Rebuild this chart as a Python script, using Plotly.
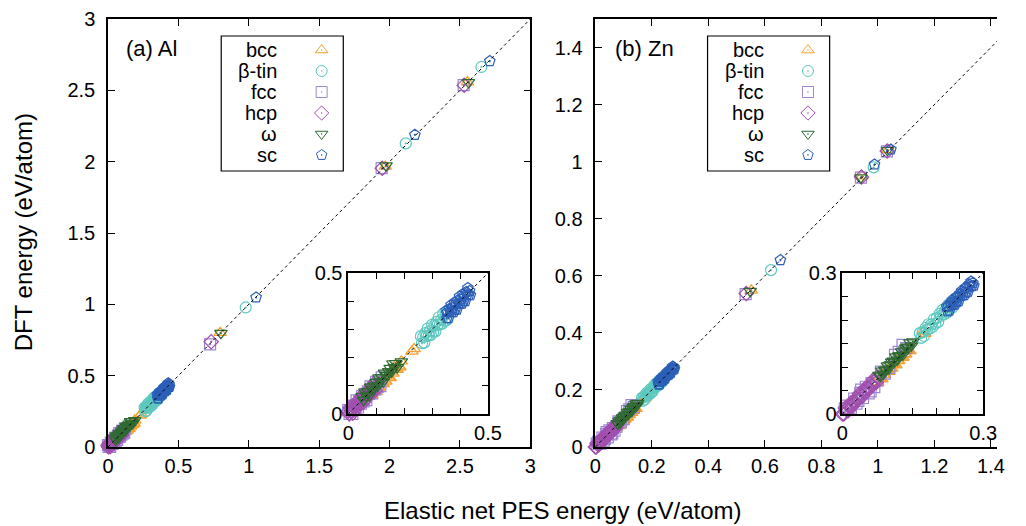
import numpy as np
import plotly.graph_objects as go

# ---------------------------------------------------------------- data
STRUCTURES = ["bcc", "β-tin", "fcc", "hcp", "ω", "sc"]
SYMBOLS = ["triangle-up-open-dot", "circle-open-dot", "square-open-dot",
           "diamond-open-dot", "triangle-down-open-dot", "pentagon-open-dot"]
COLORS = ["#f5a031", "#5cc8bf", "#9d86d3", "#a24fae", "#2f6a33", "#2c5fb8"]

# Al: elastic-net PES energy (x) vs DFT energy (y), eV/atom
al_bcc_x = [0.080, 0.085, 0.090, 0.095, 0.100, 0.105, 0.110, 0.115, 0.120, 0.125, 0.130, 0.135,
            0.140, 0.145, 0.150, 0.155, 0.160, 0.165, 0.170, 0.175, 0.180, 0.185, 0.190,
            0.228, 0.236, 0.797, 1.970, 2.553]
al_bcc_y = [0.070, 0.066, 0.087, 0.081, 0.078, 0.099, 0.094, 0.115, 0.109, 0.107, 0.120, 0.116,
            0.137, 0.131, 0.128, 0.149, 0.144, 0.165, 0.159, 0.157, 0.170, 0.166, 0.187,
            0.222, 0.231, 0.801, 1.966, 2.558]
al_btin_x = [0.260, 0.264, 0.268, 0.272, 0.276, 0.280, 0.284, 0.288, 0.292, 0.296, 0.300, 0.304,
             0.308, 0.312, 0.316, 0.320, 0.324, 0.328, 0.332, 0.336, 0.340, 0.344, 0.348, 0.352,
             0.356, 0.978, 2.115, 2.652]
al_btin_y = [0.276, 0.251, 0.273, 0.253, 0.287, 0.277, 0.303, 0.278, 0.294, 0.280, 0.316, 0.291,
             0.313, 0.293, 0.327, 0.317, 0.343, 0.318, 0.334, 0.320, 0.356, 0.331, 0.353, 0.333,
             0.367, 0.978, 2.128, 2.664]
al_fcc_x = [0.000, 0.005, 0.010, 0.015, 0.020, 0.025, 0.030, 0.035, 0.040, 0.045, 0.050, 0.055,
            0.060, 0.065, 0.070, 0.075, 0.080, 0.085, 0.090, 0.095, 0.100, 0.105, 0.110, 0.115,
            0.120, 0.725, 1.944, 2.526]
al_fcc_y = [0.014, 0.000, 0.014, 0.000, 0.030, 0.021, 0.048, 0.023, 0.046, 0.037, 0.064, 0.045,
            0.064, 0.049, 0.080, 0.071, 0.098, 0.073, 0.096, 0.087, 0.114, 0.095, 0.114, 0.099,
            0.130, 0.720, 1.955, 2.537]
al_hcp_x = [0.000, 0.004, 0.008, 0.012, 0.016, 0.020, 0.024, 0.028, 0.032, 0.036, 0.040, 0.044,
            0.048, 0.052, 0.056, 0.060, 0.064, 0.068, 0.072, 0.076, 0.080, 0.084, 0.088, 0.092,
            0.096, 0.733, 1.948, 2.530]
al_hcp_y = [0.010, 0.000, 0.024, 0.012, 0.003, 0.026, 0.037, 0.018, 0.035, 0.033, 0.050, 0.038,
            0.064, 0.052, 0.043, 0.066, 0.077, 0.058, 0.075, 0.073, 0.090, 0.078, 0.104, 0.092,
            0.083, 0.738, 1.954, 2.536]
al_omega_x = [0.050, 0.055, 0.060, 0.065, 0.070, 0.075, 0.080, 0.085, 0.090, 0.095, 0.100, 0.105,
              0.110, 0.115, 0.120, 0.125, 0.130, 0.135, 0.140, 0.145, 0.150, 0.155, 0.160, 0.165,
              0.170, 0.175, 0.190, 0.802, 1.975, 2.560]
al_omega_y = [0.063, 0.049, 0.079, 0.065, 0.080, 0.065, 0.096, 0.088, 0.087, 0.101, 0.113, 0.099,
              0.129, 0.115, 0.130, 0.115, 0.146, 0.138, 0.137, 0.151, 0.163, 0.149, 0.179, 0.165,
              0.180, 0.165, 0.186, 0.798, 1.972, 2.556]
al_sc_x = [0.350, 0.353, 0.356, 0.359, 0.362, 0.365, 0.368, 0.371, 0.374, 0.377, 0.380, 0.383,
           0.386, 0.389, 0.392, 0.395, 0.398, 0.401, 0.404, 0.407, 0.410, 0.413, 0.416, 0.419,
           0.422, 0.425, 0.428, 0.431, 0.434, 0.437, 1.052, 2.180, 2.712]
al_sc_y = [0.366, 0.340, 0.361, 0.340, 0.373, 0.362, 0.387, 0.361, 0.376, 0.361, 0.396, 0.370,
           0.391, 0.370, 0.403, 0.392, 0.417, 0.391, 0.406, 0.391, 0.426, 0.400, 0.421, 0.400,
           0.433, 0.422, 0.447, 0.421, 0.436, 0.421, 1.048, 2.188, 2.705]

# Zn: elastic-net PES energy (x) vs DFT energy (y), eV/atom
zn_bcc_x = [0.072, 0.075, 0.078, 0.081, 0.084, 0.087, 0.090, 0.093, 0.096, 0.099, 0.102, 0.105,
            0.108, 0.111, 0.114, 0.117, 0.120, 0.123, 0.126, 0.129, 0.132, 0.135, 0.138, 0.141,
            0.144, 0.172, 0.176, 0.552, 0.944, 1.036]
zn_bcc_y = [0.068, 0.067, 0.077, 0.075, 0.074, 0.084, 0.083, 0.093, 0.091, 0.090, 0.098, 0.097,
            0.107, 0.105, 0.104, 0.114, 0.113, 0.123, 0.121, 0.120, 0.128, 0.127, 0.137, 0.135,
            0.134, 0.176, 0.171, 0.549, 0.949, 1.041]
zn_btin_x = [0.165, 0.168, 0.171, 0.174, 0.177, 0.180, 0.183, 0.186, 0.189, 0.192, 0.195, 0.198,
             0.201, 0.204, 0.207, 0.210, 0.213, 0.216, 0.219, 0.222, 0.225, 0.228, 0.231, 0.234,
             0.237, 0.240, 0.622, 0.985]
zn_btin_y = [0.172, 0.162, 0.174, 0.166, 0.183, 0.179, 0.191, 0.182, 0.190, 0.185, 0.202, 0.192,
             0.204, 0.196, 0.213, 0.209, 0.221, 0.212, 0.220, 0.215, 0.232, 0.222, 0.234, 0.226,
             0.243, 0.239, 0.620, 0.980]
zn_fcc_x = [0.005, 0.010, 0.018, 0.025, 0.030, 0.034, 0.038, 0.040, 0.044, 0.050, 0.056, 0.060,
            0.062, 0.068, 0.075, 0.082, 0.090, 0.100, 0.112, 0.120, 0.128, 0.136, 0.532, 0.940,
            1.032]
zn_fcc_y = [0.012, 0.018, 0.012, 0.033, 0.022, 0.028, 0.045, 0.052, 0.034, 0.058, 0.044, 0.048,
            0.066, 0.057, 0.071, 0.090, 0.086, 0.098, 0.126, 0.132, 0.147, 0.140, 0.536, 0.944,
            1.036]
zn_hcp_x = [0.000, 0.003, 0.006, 0.009, 0.012, 0.015, 0.018, 0.021, 0.024, 0.027, 0.030, 0.033,
            0.036, 0.039, 0.042, 0.045, 0.048, 0.051, 0.054, 0.057, 0.060, 0.063, 0.066, 0.069,
            0.072, 0.075, 0.534, 0.942, 1.033]
zn_hcp_y = [0.000, 0.000, 0.013, 0.009, 0.007, 0.018, 0.024, 0.017, 0.025, 0.025, 0.034, 0.030,
            0.043, 0.039, 0.037, 0.048, 0.054, 0.047, 0.055, 0.055, 0.064, 0.060, 0.073, 0.069,
            0.067, 0.078, 0.538, 0.946, 1.037]
zn_omega_x = [0.078, 0.081, 0.084, 0.087, 0.090, 0.093, 0.096, 0.099, 0.102, 0.105, 0.108, 0.111,
              0.114, 0.117, 0.120, 0.123, 0.126, 0.129, 0.132, 0.135, 0.138, 0.141, 0.144, 0.147,
              0.150, 0.548, 0.940, 1.034]
zn_omega_y = [0.083, 0.081, 0.092, 0.085, 0.094, 0.094, 0.103, 0.096, 0.105, 0.111, 0.113, 0.111,
              0.122, 0.115, 0.124, 0.124, 0.133, 0.126, 0.135, 0.141, 0.143, 0.141, 0.152, 0.145,
              0.154, 0.546, 0.944, 1.040]
zn_sc_x = [0.222, 0.224, 0.226, 0.228, 0.230, 0.232, 0.234, 0.236, 0.238, 0.240, 0.242, 0.244,
           0.246, 0.248, 0.250, 0.252, 0.254, 0.256, 0.258, 0.260, 0.262, 0.264, 0.266, 0.268,
           0.270, 0.272, 0.274, 0.276, 0.278, 0.280, 0.655, 0.988, 1.046]
zn_sc_y = [0.229, 0.218, 0.229, 0.220, 0.236, 0.231, 0.242, 0.232, 0.239, 0.233, 0.249, 0.238,
           0.249, 0.240, 0.256, 0.251, 0.262, 0.252, 0.259, 0.253, 0.269, 0.258, 0.269, 0.260,
           0.276, 0.271, 0.282, 0.272, 0.279, 0.273, 0.655, 0.990, 1.043]

AL = [(al_bcc_x, al_bcc_y), (al_btin_x, al_btin_y), (al_fcc_x, al_fcc_y),
      (al_hcp_x, al_hcp_y), (al_omega_x, al_omega_y), (al_sc_x, al_sc_y)]
ZN = [(zn_bcc_x, zn_bcc_y), (zn_btin_x, zn_btin_y), (zn_fcc_x, zn_fcc_y),
      (zn_hcp_x, zn_hcp_y), (zn_omega_x, zn_omega_y), (zn_sc_x, zn_sc_y)]

AL_TICKS = [0, 0.5, 1, 1.5, 2, 2.5, 3]
ZN_TICKS = [0, 0.2, 0.4, 0.6, 0.8, 1, 1.2, 1.4]
AL_INSET_TICKS = [0, 0.1, 0.2, 0.3, 0.4, 0.5]
ZN_INSET_TICKS = [0, 0.05, 0.1, 0.15, 0.2, 0.25, 0.3]
AL_INSET_LIM = 0.5
ZN_INSET_LIM = 0.3

# ---------------------------------------------------------------- layout geometry (pixels)
FIG_W, FIG_H = 1011, 526
M_L, M_R, M_T, M_B = 108, 0, 19, 79
PLOT_W = FIG_W - M_L - M_R
PLOT_H = FIG_H - M_T - M_B
X_AXIS_PX = FIG_H - M_B   # pixel row of the x axes
ZN_PX_PER_UNIT = 287      # horizontal scale of the Zn panel
ZN_LEFT_PX = 603


def fx(px):
    return (px - M_L) / PLOT_W


def fy(py):
    return (X_AXIS_PX - py) / PLOT_H


FONT = "Liberation Sans, Arial, sans-serif"
TICK_FONT = dict(family=FONT, size=20, color="black")
MARKER_LW = 1.2

fig = go.Figure()


def add_points(sets, xa, ya, lim=None, size=11):
    for (xs, ys), sym, col, name in zip(sets, SYMBOLS, COLORS, STRUCTURES):
        x = np.asarray(xs)
        y = np.asarray(ys)
        if lim is not None:
            keep = (x <= lim * 1.01) & (y <= lim * 1.01)
            x, y = x[keep], y[keep]
        fig.add_trace(go.Scatter(
            x=x, y=y, mode="markers", name=name, showlegend=False,
            xaxis=xa, yaxis=ya, cliponaxis=False,
            marker=dict(symbol=sym, size=size, color=col,
                        line=dict(width=MARKER_LW, color=col)),
        ))


def add_diagonal(lim, xa, ya):
    fig.add_trace(go.Scatter(
        x=[0, lim], y=[0, lim], mode="lines", showlegend=False, xaxis=xa, yaxis=ya,
        line=dict(color="black", width=1, dash="3px,3px"),
    ))


add_points(AL, "x", "y")
add_diagonal(3, "x", "y")
add_points(ZN, "x2", "y2")
add_diagonal(1.5, "x2", "y2")
add_points(AL, "x3", "y3", lim=AL_INSET_LIM)
add_diagonal(AL_INSET_LIM, "x3", "y3")
add_points(ZN, "x4", "y4", lim=ZN_INSET_LIM)
add_diagonal(ZN_INSET_LIM, "x4", "y4")

# ---------------------------------------------------------------- legends (text left, glyph right)
LEG_TOP, LEG_BOTTOM = 36, 171
LEG_ROW0, LEG_DY = 50, 21
legend_boxes = [(223, 347), (717, 841)]
for (left, right) in legend_boxes:
    text_right = left + 59
    glyph_x = left + 102
    rows = [LEG_ROW0 + LEG_DY * i for i in range(len(STRUCTURES))]
    for r, sym, col, name in zip(rows, SYMBOLS, COLORS, STRUCTURES):
        fig.add_trace(go.Scatter(
            x=[glyph_x], y=[r], mode="markers", showlegend=False, xaxis="x5", yaxis="y5",
            cliponaxis=False,
            marker=dict(symbol=sym, size=11, color=col, line=dict(width=1, color=col)),
        ))
        fig.add_annotation(x=text_right, y=r, xref="x5", yref="y5", text=name,
                           showarrow=False, xanchor="right", yanchor="middle",
                           font=dict(family=FONT, size=20, color="black"))
    fig.add_shape(type="rect", xref="x5", yref="y5", x0=left, x1=right,
                  y0=LEG_TOP, y1=LEG_BOTTOM, line=dict(color="black", width=1.2))

# ---------------------------------------------------------------- axes
common = dict(showgrid=False, zeroline=False, showline=True, linecolor="black", linewidth=1.5,
              ticks="inside", ticklen=7, tickwidth=1.2, tickcolor="black",
              tickfont=TICK_FONT)
inset = {**common, "ticklen": 6}
zn_x_max = (FIG_W - M_R - ZN_LEFT_PX) / ZN_PX_PER_UNIT

fig.update_layout(
    width=FIG_W, height=FIG_H, autosize=False,
    margin=dict(l=M_L, r=M_R, t=M_T, b=M_B, pad=0),
    paper_bgcolor="white", plot_bgcolor="rgba(0,0,0,0)",
    showlegend=False,
    font=dict(family=FONT, color="black"),
    xaxis=dict(domain=[0, fx(537)], range=[0, 3], tickvals=AL_TICKS, mirror="ticks",
               anchor="y", **common),
    yaxis=dict(domain=[0, 1], range=[0, 3], tickvals=AL_TICKS, mirror="ticks",
               anchor="x", ticklabelstandoff=7, **common),
    xaxis2=dict(domain=[fx(ZN_LEFT_PX), 1], range=[0, zn_x_max], tickvals=ZN_TICKS,
                mirror="ticks", anchor="y2", **common),
    yaxis2=dict(domain=[0, 1], range=[0, 1.5], tickvals=ZN_TICKS, mirror=False,
                anchor="x2", ticklabelstandoff=7, **common),
    xaxis3=dict(domain=[fx(352), fx(494)], range=[0, AL_INSET_LIM],
                tickvals=AL_INSET_TICKS, ticktext=["0", "", "", "", "", "0.5"],
                mirror="ticks", anchor="y3", **inset),
    yaxis3=dict(domain=[fy(414), fy(273)], range=[0, AL_INSET_LIM],
                tickvals=AL_INSET_TICKS, ticktext=["0", "", "", "", "", "0.5"],
                mirror="ticks", anchor="x3", **inset),
    xaxis4=dict(domain=[fx(854), fx(997)], range=[0, ZN_INSET_LIM],
                tickvals=ZN_INSET_TICKS, ticktext=["0", "", "", "", "", "", "0.3"],
                mirror="ticks", anchor="y4", **inset),
    yaxis4=dict(domain=[fy(414), fy(273)], range=[0, ZN_INSET_LIM],
                tickvals=ZN_INSET_TICKS, ticktext=["0", "", "", "", "", "", "0.3"],
                mirror="ticks", anchor="x4", **inset),
    xaxis5=dict(domain=[0, 1], range=[M_L, FIG_W - M_R], visible=False, anchor="y5"),
    yaxis5=dict(domain=[0, 1], range=[X_AXIS_PX, M_T], visible=False, anchor="x5"),
)

# panel labels and axis titles
fig.add_annotation(x=fx(124), y=fy(48), xref="paper", yref="paper", text="(a) Al",
                   showarrow=False, xanchor="left", yanchor="middle",
                   font=dict(family=FONT, size=22, color="black"))
fig.add_annotation(x=fx(621), y=fy(48), xref="paper", yref="paper", text="(b) Zn",
                   showarrow=False, xanchor="left", yanchor="middle",
                   font=dict(family=FONT, size=22, color="black"))
fig.add_annotation(x=fx(22), y=fy(232), xref="paper", yref="paper",
                   text="DFT energy (eV/atom)", textangle=-90, showarrow=False,
                   xanchor="center", yanchor="middle",
                   font=dict(family=FONT, size=24, color="black"))
fig.add_annotation(x=fx(570), y=fy(510), xref="paper", yref="paper",
                   text="Elastic net PES energy (eV/atom)", showarrow=False,
                   xanchor="center", yanchor="middle",
                   font=dict(family=FONT, size=24, color="black"))

fig.write_html("out.html", config={"responsive": False})
